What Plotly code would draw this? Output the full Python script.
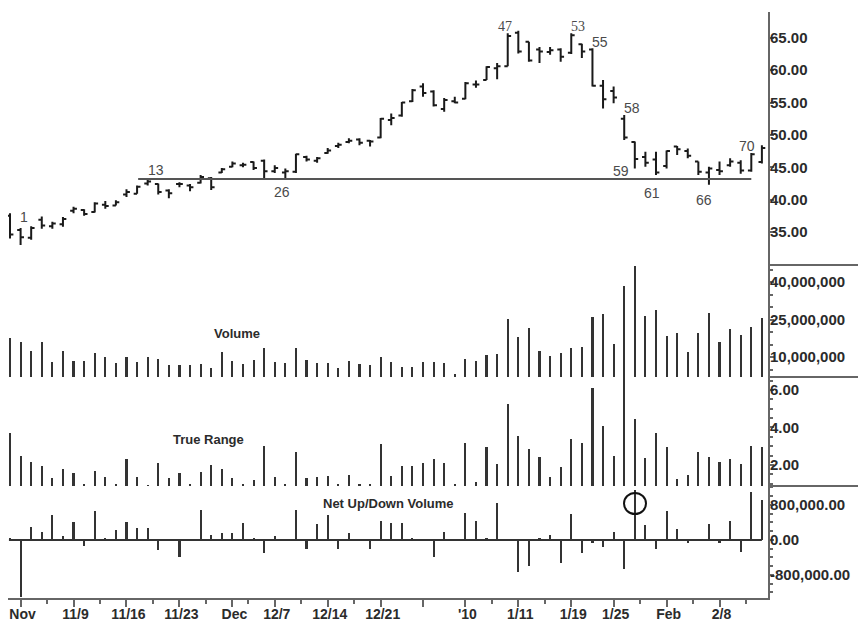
import plotly.graph_objects as go

# ---------------- data ----------------
IDX = list(range(72))
OPEN = [37.5, 35.3, 34.1, 36.9, 35.9, 36.2, 38.3, 38.4, 38.1, 39.2,
        39.1, 40.8, 40.9, 42.5, 42.4, 41.4, 42.4, 42.2, 42.6, 43.3,
        44.2, 45.1, 45.3, 45.8, 46.0, 44.4, 44.2, 44.3, 46.6, 46.0,
        47.2, 48.3, 48.9, 49.3, 49.1, 49.6, 52.3, 53.0, 55.2, 57.5,
        56.7, 54.0, 55.2, 55.6, 57.8, 58.5, 60.3, 60.6, 65.8, 64.4,
        63.2, 62.8, 63.2, 62.7, 64.0, 63.2, 57.6, 56.8, 52.5, 48.9,
        46.6, 46.2, 45.2, 48.2, 47.5, 45.9, 44.2, 44.6, 45.3, 45.7,
        44.5, 45.8]
HIGH = [37.9, 35.6, 35.9, 37.4, 36.6, 37.3, 38.9, 38.5, 39.6, 39.8,
        39.9, 41.6, 42.2, 43.1, 42.5, 41.6, 42.7, 42.4, 43.8, 43.5,
        44.9, 45.9, 45.7, 45.9, 46.2, 45.3, 44.8, 47.1, 46.8, 46.6,
        48.0, 48.8, 49.5, 49.5, 49.2, 52.6, 53.3, 55.1, 57.1, 58.0,
        56.9, 55.7, 55.9, 58.2, 58.4, 60.6, 61.1, 65.7, 66.1, 64.4,
        63.6, 63.6, 63.4, 65.7, 64.1, 63.4, 58.5, 57.5, 53.1, 49.0,
        47.4, 47.4, 47.6, 48.3, 47.9, 45.9, 45.1, 45.9, 46.4, 46.1,
        47.2, 48.4]
LOW = [34.0, 33.0, 33.8, 35.5, 35.5, 35.8, 37.9, 37.5, 38.0, 38.6,
       39.1, 40.4, 40.9, 42.2, 40.8, 40.2, 41.9, 41.3, 42.5, 41.5,
       44.1, 45.0, 45.0, 44.6, 43.1, 44.1, 43.3, 44.1, 45.9, 45.7,
       47.1, 48.0, 48.7, 48.4, 48.2, 49.5, 51.5, 52.8, 55.1, 55.9,
       54.4, 53.6, 54.9, 55.5, 57.3, 58.5, 58.6, 60.6, 62.6, 61.3,
       61.1, 62.4, 61.3, 62.5, 61.9, 57.5, 54.1, 54.9, 49.2, 44.8,
       45.1, 43.8, 44.8, 46.9, 46.4, 43.8, 42.3, 43.8, 45.1, 44.0,
       44.3, 45.6]
CLOSE = [34.6, 34.2, 35.6, 36.0, 36.3, 37.0, 38.6, 37.8, 39.4, 39.0,
         39.6, 41.2, 42.0, 42.8, 41.2, 41.0, 42.4, 41.9, 43.5, 41.9,
         44.7, 45.6, 45.4, 44.9, 44.4, 44.9, 44.4, 47.0, 46.2, 46.4,
         47.6, 48.5, 49.1, 48.8, 49.0, 52.5, 52.6, 55.0, 56.9, 56.5,
         54.6, 55.4, 55.0, 58.0, 57.8, 60.5, 60.6, 65.3, 62.9, 61.5,
         62.9, 63.1, 62.1, 65.4, 62.9, 57.6, 55.5, 55.8, 49.6, 46.3,
         45.7, 44.2, 47.5, 47.8, 46.8, 44.3, 44.8, 44.4, 45.9, 44.5,
         47.0, 48.0]
VOLUME_M = [17.5, 15.9, 12.5, 15.9, 7.9, 12.5, 8.5, 8.5, 11.7, 10.1,
            7.5, 10.0, 7.9, 9.9, 9.1, 6.8, 6.8, 6.8, 7.1, 5.5,
            12.1, 8.3, 7.1, 8.7, 13.5, 7.9, 7.5, 13.5, 8.7, 7.7,
            7.5, 5.5, 8.5, 7.1, 6.8, 10.0, 7.9, 6.1, 6.0, 7.9,
            7.9, 7.5, 3.2, 9.1, 8.4, 10.8, 11.2, 25.1, 18.1, 21.7,
            12.5, 10.4, 11.7, 13.5, 14.1, 25.9, 27.1, 15.1, 38.5, 46.5,
            26.4, 28.8, 18.4, 19.7, 12.1, 19.5, 27.7, 15.9, 21.1, 18.8,
            22.1, 25.5]
TRUE_RANGE = [3.72, 2.50, 2.14, 1.96, 1.29, 1.79, 1.56, 1.00, 1.68, 1.34,
              1.00, 2.30, 1.34, 0.95, 2.12, 1.29, 1.56, 1.00, 1.61, 2.00,
              1.79, 1.29, 1.00, 1.20, 3.01, 1.34, 1.00, 2.71, 1.29, 1.34,
              1.42, 1.00, 1.47, 1.00, 1.00, 3.12, 1.42, 1.92, 1.92, 2.09,
              2.30, 2.09, 1.00, 3.19, 1.10, 2.94, 2.05, 5.25, 3.56, 2.84,
              2.44, 1.34, 1.91, 3.39, 3.19, 6.09, 4.08, 2.50, 6.68, 4.44,
              2.39, 3.69, 2.94, 1.25, 1.47, 2.68, 2.44, 2.18, 2.32, 2.05,
              3.01, 2.94]
NET_VOL_K = [30, -1296, 305, 190, 571, 99, 404, -137, 670, 38,
             229, 404, 282, 282, -229, 0, -381, 0, 686, 114,
             152, 152, 381, 53, -290, 99, 0, 686, -206, 358,
             571, -206, 168, 0, -206, 442, 381, 381, 38, -23,
             -396, 190, 15, 625, 442, 38, 838, 0, -724, -587,
             53, 114, -533, 594, -290, -76, -152, 190, -663, 1143,
             343, -206, 670, 244, -76, -23, 358, -61, 442, -282,
             1105, 914]

X_TICKS = [1, 6, 11, 16, 21, 25, 30, 35, 39, 43, 48, 53, 57, 62, 67]
X_LABELS = ["Nov", "11/9", "11/16", "11/23", "Dec", "12/7", "12/14", "12/21", "",
            "'10", "1/11", "1/19", "1/25", "Feb", "2/8"]
X_MINOR = [3.5, 8.5, 13.5, 18.5, 22.5, 27.5, 32.5, 45.5, 50.5, 59.5, 64.5, 69.5]

PRICE_TICKS = [35, 40, 45, 50, 55, 60, 65]
PRICE_LABELS = ["35.00", "40.00", "45.00", "50.00", "55.00", "60.00", "65.00"]
VOL_TICKS = [10e6, 25e6, 40e6]
VOL_LABELS = ["10,000,000", "25,000,000", "40,000,000"]
TR_TICKS = [2, 4, 6]
TR_LABELS = ["2.00", "4.00", "6.00"]
NET_TICKS = [-800e3, 0, 800e3]
NET_LABELS = ["-800,000.00", "0.00", "800,000.00"]

BAR_NOTES = [("1", 1.32, 37.3), ("13", 13.8, 44.6), ("26", 25.7, 41.2),
             ("47", 46.7, 66.8), ("53", 53.6, 66.7), ("55", 55.7, 64.4),
             ("58", 58.7, 54.2), ("59", 57.7, 44.4), ("61", 60.6, 41.0),
             ("66", 65.5, 39.9), ("70", 69.6, 48.3)]
SERIF_NOTES = {"47", "53"}
SUPPORT_LEVEL = 43.2
SUPPORT_FROM, SUPPORT_TO = 12.1, 70.0

# ---------------- layout geometry ----------------
# The page body has an 8px margin, so the figure is sized/positioned so that
# the visible screenshot (866x621) lines up with the reference.
OFF = 8
W, H = 866 - OFF, 621 - OFF          # 858 x 613
L, R, T, B = 0, 98, 4, 23
PW, PH = W - L - R, H - T - B        # 760 x 586
PX_PER_BAR = 10.59
X0 = -(10 - OFF - L) / PX_PER_BAR    # bar 0 at screen x=10
X1 = X0 + PW / PX_PER_BAR


def py(y_screen):
    return (H - B - (y_screen - OFF)) / PH


def px(x_screen):
    return (x_screen - OFF - L) / PW


AX = "#666666"
TXT = "#2b2b2b"
FONT = "Liberation Sans, Arial, sans-serif"
xtickfont = dict(family=FONT, size=14, color=TXT, weight="bold")
ytickfont = dict(family=FONT, size=15, color=TXT, weight="bold")

fig = go.Figure()
fig.add_trace(go.Ohlc(x=IDX, open=OPEN, high=HIGH, low=LOW, close=CLOSE,
                      increasing=dict(line=dict(color="#1a1a1a", width=2)),
                      decreasing=dict(line=dict(color="#1a1a1a", width=2)),
                      tickwidth=0.32, hoverinfo="skip", yaxis="y"))
fig.add_trace(go.Bar(x=IDX, y=[v * 1e6 for v in VOLUME_M], width=0.2,
                     marker=dict(color="#333333", line=dict(width=0)),
                     hoverinfo="skip", yaxis="y2"))
fig.add_trace(go.Bar(x=IDX, y=TRUE_RANGE, width=0.2,
                     marker=dict(color="#333333", line=dict(width=0)),
                     hoverinfo="skip", yaxis="y3"))
fig.add_trace(go.Bar(x=IDX, y=[v * 1e3 for v in NET_VOL_K], width=0.2,
                     marker=dict(color="#333333", line=dict(width=0)),
                     hoverinfo="skip", yaxis="y4"))

ycommon = dict(side="right", anchor="x", showline=True, linecolor=AX, linewidth=2,
               ticks="outside", ticklen=4, tickwidth=1.5, tickcolor=AX,
               ticklabelstandoff=-7, automargin=False,
               showgrid=False, zeroline=False, tickfont=ytickfont, fixedrange=True)

fig.update_layout(
    width=W, height=H,
    margin=dict(l=L, r=R, t=T, b=B, autoexpand=False),
    paper_bgcolor="white", plot_bgcolor="white",
    showlegend=False, bargap=0,
    xaxis=dict(range=[X0, X1], domain=[0, 1], anchor="y4",
               showline=True, linecolor=AX, linewidth=2,
               ticks="outside", ticklen=7, tickwidth=1.5, tickcolor=AX,
               ticklabelstandoff=-5, ticklabelshift=2, ticklabeloverflow="allow",
               automargin=False,
               tickvals=X_TICKS, ticktext=X_LABELS, tickfont=xtickfont,
               showgrid=False, zeroline=False, fixedrange=True,
               rangeslider=dict(visible=False),
               minor=dict(tickvals=X_MINOR, ticks="outside", ticklen=4,
                          tickwidth=1.5, tickcolor=AX, showgrid=False)),
    yaxis=dict(domain=[py(265), 1], range=[29.9, 69.0],
               tickvals=PRICE_TICKS, ticktext=PRICE_LABELS, **ycommon),
    yaxis2=dict(domain=[py(377), py(265)], range=[2.0e6, 46.8e6],
                tickvals=VOL_TICKS, ticktext=VOL_LABELS,
                minor=dict(dtick=5e6, tick0=0, ticks="outside", ticklen=3,
                           tickcolor=AX, tickwidth=1.5), **ycommon),
    yaxis3=dict(domain=[py(486), py(377)], range=[0.88, 6.69],
                tickvals=TR_TICKS, ticktext=TR_LABELS,
                minor=dict(dtick=0.5, tick0=0, ticks="outside", ticklen=3,
                           tickcolor=AX, tickwidth=1.5), **ycommon),
    yaxis4=dict(domain=[0, py(486)], range=[-1326e3, 1234e3],
                tickvals=NET_TICKS, ticktext=NET_LABELS,
                minor=dict(dtick=200e3, tick0=0, ticks="outside", ticklen=3,
                           tickcolor=AX, tickwidth=1.5), **ycommon),
)

shapes = []
for yy in (265, 377, 486):
    shapes.append(dict(type="line", xref="paper", yref="paper",
                       x0=1, x1=px(866), y0=py(yy), y1=py(yy),
                       line=dict(color=AX, width=2)))
shapes.append(dict(type="line", xref="x", yref="y",
                   x0=SUPPORT_FROM, x1=SUPPORT_TO, y0=SUPPORT_LEVEL, y1=SUPPORT_LEVEL,
                   line=dict(color="#555555", width=2)))
shapes.append(dict(type="line", xref="x", yref="y4",
                   x0=IDX[0] - 0.1, x1=IDX[-1], y0=0, y1=0,
                   line=dict(color="#333333", width=2)))
shapes.append(dict(type="circle", xref="paper", yref="paper",
                   x0=px(624), x1=px(646), y0=py(514), y1=py(493),
                   line=dict(color="#111111", width=2)))
fig.update_layout(shapes=shapes)

annos = []
for txt, xi, yp in BAR_NOTES:
    fam = "Liberation Serif, Times New Roman, serif" if txt in SERIF_NOTES else FONT
    annos.append(dict(x=xi, y=yp, xref="x", yref="y", text=txt, showarrow=False,
                      xanchor="center", yanchor="middle",
                      font=dict(family=fam, size=14, color="#4a4a4a")))
for txt, xx, yy in (("Volume", 237, 333), ("True Range", 208, 439),
                    ("Net Up/Down Volume", 388, 503)):
    annos.append(dict(x=px(xx), y=py(yy), xref="paper", yref="paper", text=txt,
                      showarrow=False, xanchor="center", yanchor="middle",
                      font=dict(family=FONT, size=13, color=TXT, weight="bold")))
fig.update_layout(annotations=annos)

fig.write_html("out.html")
